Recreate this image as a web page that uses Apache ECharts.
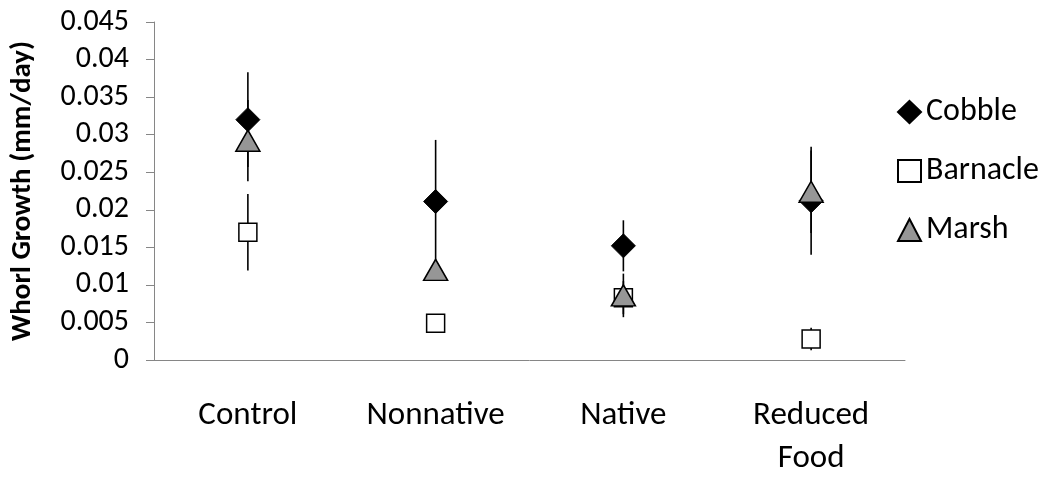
<!DOCTYPE html>
<html>
<head>
<meta charset="utf-8">
<script src="https://cdn.jsdelivr.net/npm/echarts@6/dist/echarts.min.js"></script>
<style>
  html, body { margin: 0; padding: 0; background: #fff; }
  #chart { width: 1052px; height: 480px; }
</style>
</head>
<body>
<div id="chart"></div>
<script>
// treatments on the x axis
var categories = ['Control', 'Nonnative', 'Native', 'Reduced\nFood'];

// mean whorl growth (mm/day) per habitat
var cobble = [0.0320, 0.0211, 0.0152, 0.0212];
var barnacle = [0.0170, 0.0049, 0.0083, 0.0028];
var marsh = [0.0292, 0.0120, 0.0086, 0.0224];

// error bar half lengths
var cobbleErr = [0.0063, 0.0082, 0.0034, 0.0072];
var barnacleErr = [0.0051, 0.0004, 0.0022, 0.0015];
var marshErr = [0.0054, 0.0012, 0.0029, 0.0055];

var yTicks = [0, 0.005, 0.01, 0.015, 0.02, 0.025, 0.03, 0.035, 0.04, 0.045];

var font = 'Carlito, "Liberation Sans Narrow", "Open Sans", sans-serif';

function errData(vals, errs) {
  return vals.map(function (v, i) { return [i, v - errs[i], v + errs[i]]; });
}

function errSeries(vals, errs) {
  return {
    type: 'custom',
    silent: true,
    z: 1,
    data: errData(vals, errs),
    renderItem: function (params, api) {
      var lo = api.coord([api.value(0), api.value(1)]);
      var hi = api.coord([api.value(0), api.value(2)]);
      return {
        type: 'line',
        shape: { x1: lo[0], y1: lo[1], x2: hi[0], y2: hi[1] },
        style: { stroke: '#000', lineWidth: 1.6 }
      };
    }
  };
}

var chart = echarts.init(document.getElementById('chart'));

chart.setOption({
  animation: false,
  textStyle: { fontFamily: font },
  grid: { left: 153, right: 147, top: 22, bottom: 117 },
  legend: {
    orient: 'vertical',
    left: 892,
    top: 91,
    itemGap: 27,
    itemWidth: 23,
    itemHeight: 22,
    textStyle: { fontSize: 32, color: '#000', fontFamily: font },
    data: ['Cobble', 'Barnacle', 'Marsh']
  },
  xAxis: {
    type: 'category',
    data: categories,
    boundaryGap: true,
    axisLine: { lineStyle: { color: '#868686', width: 1 } },
    axisTick: { length: 10, lineStyle: { color: '#868686' } },
    axisLabel: { fontSize: 33, color: '#000', margin: 34, lineHeight: 43, fontFamily: font },
    splitLine: { show: false }
  },
  yAxis: {
    type: 'value',
    min: 0,
    max: 0.045,
    interval: 0.005,
    name: 'Whorl Growth (mm/day)',
    nameLocation: 'middle',
    nameGap: 117,
    nameRotate: 90,
    nameTextStyle: { fontSize: 29, fontWeight: 'bold', color: '#000', fontFamily: font },
    axisLine: { show: true, lineStyle: { color: '#868686', width: 1 } },
    axisTick: { show: true, length: 8, lineStyle: { color: '#868686' } },
    axisLabel: {
      fontSize: 30,
      color: '#000',
      margin: 25,
      fontFamily: font,
      formatter: function (v) {
        var t = yTicks.find(function (x) { return Math.abs(x - v) < 1e-9; });
        return String(t !== undefined ? t : +v.toFixed(3));
      }
    },
    splitLine: { show: false }
  },
  series: [
    errSeries(cobble, cobbleErr),
    errSeries(barnacle, barnacleErr),
    errSeries(marsh, marshErr),
    {
      name: 'Cobble',
      type: 'scatter',
      z: 3,
      symbol: 'diamond',
      symbolSize: [24, 24],
      itemStyle: { color: '#000', borderColor: '#000', borderWidth: 1, opacity: 1 },
      data: cobble
    },
    {
      name: 'Barnacle',
      type: 'scatter',
      z: 3,
      symbol: 'rect',
      symbolSize: [18, 18],
      itemStyle: { color: '#fff', borderColor: '#000', borderWidth: 1.5, opacity: 1 },
      data: barnacle
    },
    {
      name: 'Marsh',
      type: 'scatter',
      z: 4,
      symbol: 'triangle',
      symbolSize: [24, 21],
      itemStyle: { color: '#969696', borderColor: '#000', borderWidth: 1.5, opacity: 1 },
      data: marsh
    }
  ]
});
</script>
</body>
</html>
